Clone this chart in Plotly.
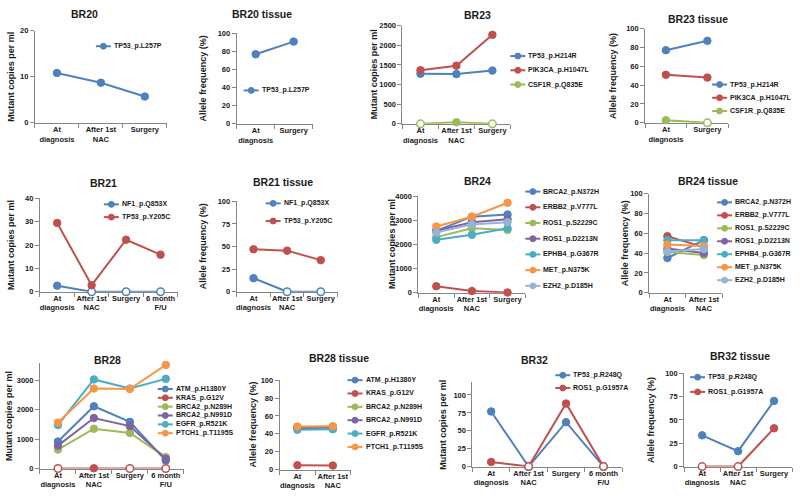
import plotly.graph_objects as go

W, H = 800, 502

# ---------------- data ----------------
CAT_DX = "At<br>diagnosis"
CAT_NAC = "After 1st<br>NAC"
CAT_SX = "Surgery"
CAT_FU = "6 month<br>F/U"

br20_cats = [CAT_DX, CAT_NAC, CAT_SX]
br20_labels = ["TP53_p.L257P"]
br20_values = [[10.8, 8.7, 5.7]]

br20t_cats = [CAT_DX, CAT_SX]
br20t_values = [[77, 91]]

br23_cats = [CAT_DX, CAT_NAC, CAT_SX]
br23_labels = ["TP53_p.H214R", "PIK3CA_p.H1047L", "CSF1R_p.Q835E"]
br23_values = [[1275, 1265, 1355], [1365, 1480, 2265], [0, 40, 0]]

br23t_cats = [CAT_DX, CAT_SX]
br23t_values = [[77, 87], [51, 48], [2.8, 0]]

br21_cats = [CAT_DX, CAT_NAC, CAT_SX, CAT_FU]
br21_labels = ["NF1_p.Q853X", "TP53_p.Y205C"]
br21_values = [[2.6, 0, 0, 0], [29.5, 2.8, 22.3, 15.9]]

br21t_cats = [CAT_DX, CAT_NAC, CAT_SX]
br21t_values = [[15, 0, 0], [47, 45.5, 35]]

br24_cats = [CAT_DX, CAT_NAC, CAT_SX]
br24_labels = ["BRCA2_p.N372H", "ERBB2_p.V777L", "ROS1_p.S2229C", "ROS1_p.D2213N",
               "EPHB4_p.G367R", "MET_p.N375K", "EZH2_p.D185H"]
br24_values = [[2570, 3160, 3250], [270, 70, 10], [2310, 2680, 2610], [2580, 2930, 3050],
               [2200, 2410, 2680], [2750, 3160, 3740], [2500, 2840, 2930]]

br24t_cats = [CAT_DX, CAT_NAC]
br24t_values = [[35, 53], [57, 46], [41, 38], [44.5, 40], [53, 53], [48.5, 47], [41.5, 44]]

br28_cats = [CAT_DX, CAT_NAC, CAT_SX, CAT_FU]
br28_labels = ["ATM_p.H1380Y", "KRAS_p.G12V", "BRCA2_p.N289H", "BRCA2_p.N991D",
               "EGFR_p.R521K", "PTCH1_p.T1195S"]
br28_values = [[920, 2120, 1590, 270], [0, 8, 0, 0], [645, 1355, 1210, 390],
               [780, 1720, 1445, 330], [1480, 3035, 2725, 3055], [1565, 2725, 2710, 3530]]

br28t_cats = [CAT_DX, CAT_NAC]
br28t_values = [[46, 47], [4.8, 4.4], [47, 48], [46.5, 47.5], [44.5, 45], [48, 48.5]]

br32_cats = [CAT_DX, CAT_NAC, CAT_SX, CAT_FU]
br32_labels = ["TP53_p.R248Q", "ROS1_p.G1957A"]
br32_values = [[77, 0, 62, 0], [6.4, 0, 88, 0]]

br32t_cats = [CAT_DX, CAT_NAC, CAT_SX]
br32t_values = [[33.5, 16.5, 70.4], [0, 0, 41]]

# ---------------- style ----------------
BLUE, RED, GREEN, PURPLE, TEAL, ORANGE, LBLUE = (
    "#4F81BD", "#C0504D", "#9BBB59", "#8064A2", "#4BACC6", "#F79646", "#95B3D7")
PAL = [BLUE, RED, GREEN, PURPLE, TEAL, ORANGE, LBLUE]
FONT = "Liberation Sans, Arial, sans-serif"
AXC = "#868686"
TXT = "#1a1a1a"
MUT = "Mutant copies per ml"
AF = "Allele frequency (%)"

panels = [
    dict(title="BR20", cats=br20_cats, labels=br20_labels, values=br20_values,
         dom=(34, 166, 27, 121), yr=(0, 20), yt=[0, 10, 20], ytitle=MUT, ytx=10,
         tpos=(84, 10), leg=(95, 43, 14)),
    dict(title="BR20 tissue", cats=br20t_cats, labels=br20_labels, values=br20t_values,
         dom=(236, 312, 30, 122), yr=(0, 100), yt=[0, 20, 40, 60, 80, 100], ytitle=AF, ytx=202,
         tpos=(261, 10), leg=(243, 88, 14)),
    dict(title="BR23", cats=br23_cats, labels=br23_labels, values=br23_values,
         dom=(402, 510, 22, 122), yr=(0, 2500), yt=[0, 500, 1000, 1500, 2000, 2500], ytitle=MUT, ytx=373,
         tpos=(477, 11), leg=(510, 53, 14.5)),
    dict(title="BR23 tissue", cats=br23t_cats, labels=br23_labels, values=br23t_values,
         dom=(645, 728, 25, 121), yr=(0, 100), yt=[0, 20, 40, 60, 80, 100], ytitle=AF, ytx=612,
         tpos=(698, 15), leg=(712, 82, 13.5)),
    dict(title="BR21", cats=br21_cats, labels=br21_labels, values=br21_values,
         dom=(39, 177, 198, 293), yr=(0, 40), yt=[0, 10, 20, 30, 40], ytitle=MUT, ytx=10,
         tpos=(103, 182), leg=(103, 204, 13)),
    dict(title="BR21 tissue", cats=br21t_cats, labels=br21_labels, values=br21t_values,
         dom=(236, 337, 201, 293), yr=(0, 100), yt=[0, 25, 50, 75, 100], ytitle=AF, ytx=202,
         tpos=(282, 181), leg=(265, 203, 18)),
    dict(title="BR24", cats=br24_cats, labels=br24_labels, values=br24_values,
         dom=(418, 525, 196, 294), yr=(0, 4000), yt=[0, 1000, 2000, 3000, 4000], ytitle=MUT, ytx=391,
         tpos=(477, 180), leg=(525, 191, 16)),
    dict(title="BR24 tissue", cats=br24t_cats, labels=br24_labels, values=br24t_values,
         dom=(649, 722, 193, 294), yr=(0, 100), yt=[0, 20, 40, 60, 80, 100], ytitle=AF, ytx=625,
         tpos=(708, 180), leg=(717, 202, 13.2)),
    dict(title="BR28", cats=br28_cats, labels=br28_labels, values=br28_values,
         dom=(39, 183, 366, 473), yr=(0, 3580), yt=[0, 1000, 2000, 3000], ytitle=MUT, ytx=8,
         tpos=(107, 362), leg=(157, 392, 9)),
    dict(title="BR28 tissue", cats=br28t_cats, labels=br28_labels, values=br28t_values,
         dom=(279, 350, 383, 474), yr=(0, 100), yt=[0, 20, 40, 60, 80, 100], ytitle=AF, ytx=252,
         tpos=(338, 360), leg=(347, 383, 13.6)),
    dict(title="BR32", cats=br32_cats, labels=br32_labels, values=br32_values,
         dom=(472, 622, 385, 471), yr=(0, 118), yt=[0, 25, 50, 75, 100], ytitle=MUT, ytx=443,
         tpos=(534, 362), leg=(555, 378, 13)),
    dict(title="BR32 tissue", cats=br32t_cats, labels=br32_labels, values=br32t_values,
         dom=(684, 792, 376, 471), yr=(0, 100), yt=[0, 25, 50, 75, 100], ytitle=AF, ytx=651,
         tpos=(740, 358), leg=(690, 380, 15)),
]


def fx(x):
    return x / W


def fy(y):
    return 1 - y / H


fig = go.Figure()
shapes, annots = [], []
layout_axes = {}

for k, p in enumerate(panels, start=1):
    xa = "x" if k == 1 else f"x{k}"
    ya = "y" if k == 1 else f"y{k}"
    n = len(p["cats"])
    xs = list(range(n))
    for i, (lab, vals) in enumerate(zip(p["labels"], p["values"])):
        col = PAL[i]
        fills = ["white" if v == 0 else col for v in vals]
        lw = [1.5 if v == 0 else 1 for v in vals]
        fig.add_trace(go.Scatter(
            x=xs, y=vals, mode="lines+markers", name=lab, xaxis=xa, yaxis=ya,
            line=dict(color=col, width=2),
            marker=dict(size=7.5, color=fills, line=dict(color=col, width=lw)),
            cliponaxis=False, showlegend=False,
        ))
    x0, x1, yt, yb = p["dom"]
    tf = dict(family=FONT, size=7.5, color=TXT, weight="bold")
    layout_axes["xaxis" if k == 1 else f"xaxis{k}"] = dict(
        domain=[fx(x0), fx(x1)], anchor=ya, range=[-0.5, n - 0.5],
        tickmode="array", tickvals=xs, ticktext=p["cats"], ticks="", tickangle=0,
        ticklabelstandoff=-1,
        showline=True, linecolor=AXC, linewidth=1, showgrid=False, zeroline=False,
        tickfont=tf, layer="below traces", fixedrange=True,
        minor=dict(tickmode="array", tickvals=[i + 0.5 for i in range(-1, n)],
                   ticks="outside", ticklen=4, tickcolor=AXC, showgrid=False),
    )
    layout_axes["yaxis" if k == 1 else f"yaxis{k}"] = dict(
        domain=[fy(yb), fy(yt)], anchor=xa, range=list(p["yr"]),
        tickmode="array", tickvals=p["yt"], ticks="outside", ticklen=4, tickcolor=AXC,
        showline=True, linecolor=AXC, linewidth=1, showgrid=False, zeroline=False,
        tickfont=tf, layer="below traces", fixedrange=True,
    )
    # panel title
    tx, ty = p["tpos"]
    annots.append(dict(text=p["title"], x=fx(tx), y=fy(ty), xref="paper", yref="paper",
                       showarrow=False, xanchor="center", yanchor="middle",
                       font=dict(family=FONT, size=10.5, color=TXT, weight="bold")))
    # y axis title
    annots.append(dict(text=p["ytitle"], x=fx(p["ytx"]), y=fy((yt + yb) / 2),
                       xref="paper", yref="paper", showarrow=False, textangle=-90,
                       xanchor="center", yanchor="middle",
                       font=dict(family=FONT, size=9, color=TXT, weight="bold")))
    # legend (drawn as key symbols + text)
    lx, ly, gap = p["leg"]
    for i, lab in enumerate(p["labels"]):
        col = PAL[i]
        yy = ly + i * gap
        shapes.append(dict(type="line", xref="paper", yref="paper",
                           x0=fx(lx), x1=fx(lx + 15), y0=fy(yy), y1=fy(yy),
                           line=dict(color=col, width=2)))
        shapes.append(dict(type="circle", xref="paper", yref="paper",
                           x0=fx(lx + 4.5), x1=fx(lx + 10.5), y0=fy(yy + 3), y1=fy(yy - 3),
                           fillcolor=col, line=dict(color=col, width=1)))
        annots.append(dict(text=lab, x=fx(lx + 16), y=fy(yy), xref="paper", yref="paper",
                           showarrow=False, xanchor="left", yanchor="middle",
                           font=dict(family=FONT, size=7, color=TXT, weight="bold")))

fig.update_layout(
    width=W, height=H, margin=dict(l=0, r=0, t=0, b=0),
    paper_bgcolor="white", plot_bgcolor="white",
    showlegend=False, shapes=shapes, annotations=annots,
    font=dict(family=FONT, color=TXT),
    **layout_axes,
)

fig.write_html("out.html", config={"displayModeBar": False},
               post_script="document.body.style.margin='0';document.body.style.overflow='hidden';")
